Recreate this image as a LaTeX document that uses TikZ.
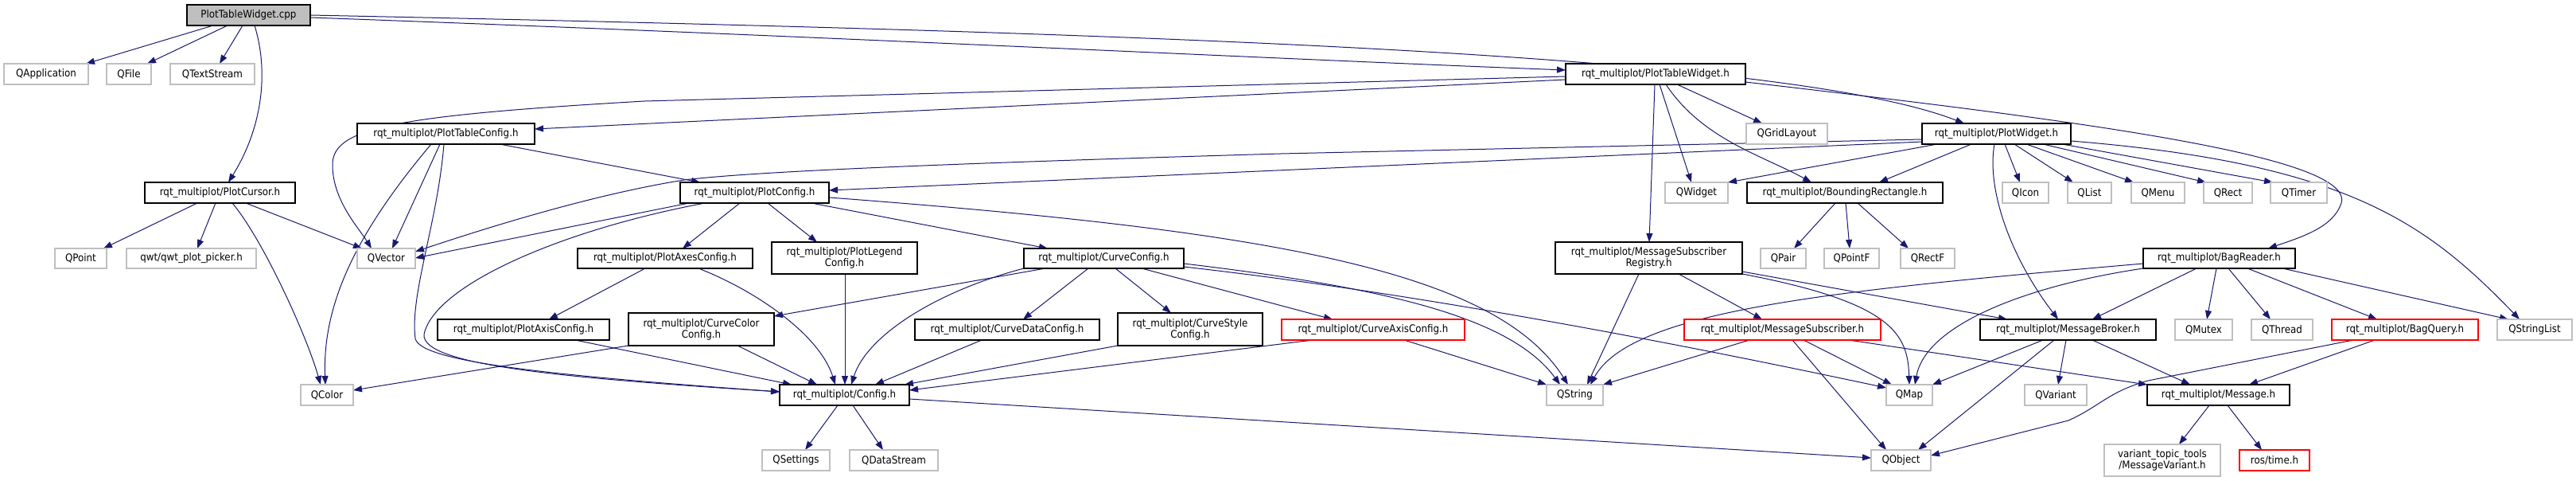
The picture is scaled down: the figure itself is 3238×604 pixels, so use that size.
\documentclass[tikz,border=0pt]{standalone}
\usepackage{fontspec}
\setmainfont{DejaVu Sans Condensed}
\usetikzlibrary{arrows.meta}
\definecolor{edgec}{HTML}{191970}
\definecolor{graybd}{HTML}{BFBFBF}
\pgfdeclarelayer{bg}
\pgfsetlayers{bg,main}
\tikzset{
  nb/.style={draw=black, line width=1.3pt, fill=white, inner sep=0pt, outer sep=0pt, align=center, font=\fontsize{13.2}{14}\selectfont},
  gb/.style={nb, draw=graybd},
  rb/.style={nb, draw=red},
  rootb/.style={nb, fill=graybd},
  edge/.style={draw=edgec, line width=1pt, -{Triangle[length=11pt,width=8pt]}},
}
\newcommand\DNode[7][nb]{\node[#1, minimum width={(#5-#3)*1pt}, minimum height={(#6-#4)*1pt}] (#2) at ({(#3+#5)/2},{(#4+#6)/2}) {#7};}
\begin{document}
\begin{tikzpicture}[x=1pt,y=-1pt]
\begin{pgfonlayer}{bg}
\path[fill=white, use as bounding box] (0,0) rectangle (3238,604);
\end{pgfonlayer}
% nodes
\DNode[rootb]{cpp}{235}{6}{390}{32}{PlotTableWidget.cpp}
\DNode[gb]{qapp}{5}{80}{111}{106}{QApplication}
\DNode[gb]{qfile}{134}{80}{190}{106}{QFile}
\DNode[gb]{qts}{214}{80}{320}{106}{QTextStream}
\DNode{ptwh}{1968}{80}{2194}{106}{rqt\_multiplot/PlotTableWidget.h}
\DNode{ptc}{449}{155}{672}{181}{rqt\_multiplot/PlotTableConfig.h}
\DNode[gb]{qgrid}{2195}{155}{2297}{181}{QGridLayout}
\DNode{pw}{2416}{155}{2603}{181}{rqt\_multiplot/PlotWidget.h}
\DNode{cursor}{182}{229}{371}{255}{rqt\_multiplot/PlotCursor.h}
\DNode{pc}{855}{229}{1042}{255}{rqt\_multiplot/PlotConfig.h}
\DNode[gb]{qwidget}{2093}{229}{2172}{255}{QWidget}
\DNode{brect}{2196}{229}{2442}{255}{rqt\_multiplot/BoundingRectangle.h}
\DNode[gb]{qicon}{2517}{229}{2575}{255}{QIcon}
\DNode[gb]{qlist}{2599}{229}{2654}{255}{QList}
\DNode[gb]{qmenu}{2679}{229}{2746}{255}{QMenu}
\DNode[gb]{qrect}{2770}{229}{2831}{255}{QRect}
\DNode[gb]{qtimer}{2854}{229}{2925}{255}{QTimer}
\DNode[gb]{qpoint}{69}{312}{134}{337}{QPoint}
\DNode[gb]{qwt}{159}{312}{322}{337}{qwt/qwt\_plot\_picker.h}
\DNode[gb]{qvector}{449}{312}{522}{337}{QVector}
\DNode{pac}{726}{312}{946}{337}{rqt\_multiplot/PlotAxesConfig.h}
\DNode{plc}{970}{304}{1153}{344}{rqt\_multiplot/PlotLegend\\Config.h}
\DNode{cc}{1287}{312}{1488}{337}{rqt\_multiplot/CurveConfig.h}
\DNode{msr}{1955}{304}{2190}{344}{rqt\_multiplot/MessageSubscriber\\Registry.h}
\DNode[gb]{qpair}{2213}{312}{2270}{337}{QPair}
\DNode[gb]{qpointf}{2293}{312}{2362}{337}{QPointF}
\DNode[gb]{qrectf}{2389}{312}{2457}{337}{QRectF}
\DNode{br}{2694}{312}{2885}{337}{rqt\_multiplot/BagReader.h}
\DNode{paxc}{550}{401}{766}{427}{rqt\_multiplot/PlotAxisConfig.h}
\DNode{ccc}{790}{393}{973}{434}{rqt\_multiplot/CurveColor\\Config.h}
\DNode{cdc}{1150}{401}{1382}{427}{rqt\_multiplot/CurveDataConfig.h}
\DNode{csc}{1405}{393}{1587}{434}{rqt\_multiplot/CurveStyle\\Config.h}
\DNode[rb]{cac}{1611}{401}{1841}{427}{rqt\_multiplot/CurveAxisConfig.h}
\DNode[rb]{ms}{2117}{401}{2364}{427}{rqt\_multiplot/MessageSubscriber.h}
\DNode{mb}{2489}{401}{2710}{427}{rqt\_multiplot/MessageBroker.h}
\DNode[gb]{qmutex}{2734}{401}{2806}{427}{QMutex}
\DNode[gb]{qthread}{2830}{401}{2907}{427}{QThread}
\DNode[rb]{bq}{2931}{401}{3115}{427}{rqt\_multiplot/BagQuery.h}
\DNode[gb]{qsl}{3139}{401}{3233}{427}{QStringList}
\DNode[gb]{qcolor}{378}{483}{444}{509}{QColor}
\DNode{config}{980}{483}{1143}{509}{rqt\_multiplot/Config.h}
\DNode[gb]{qstring}{1944}{483}{2015}{509}{QString}
\DNode[gb]{qmap}{2371}{483}{2429}{509}{QMap}
\DNode[gb]{qvariant}{2545}{483}{2623}{509}{QVariant}
\DNode{msg}{2699}{483}{2878}{509}{rqt\_multiplot/Message.h}
\DNode[gb]{qsettings}{958}{565}{1043}{591}{QSettings}
\DNode[gb]{qds}{1068}{565}{1179}{591}{QDataStream}
\DNode[gb]{qobject}{2352}{565}{2427}{591}{QObject}
\DNode[gb]{mv}{2645}{558}{2791}{598}{variant\_topic\_tools\\/MessageVariant.h}
\DNode[rb]{ros}{2815}{565}{2903}{591}{ros/time.h}
% edges
\begin{pgfonlayer}{bg}
% PlotTableWidget.cpp
\draw[edge] (cpp.south -| 268,0) -- (qapp.north -| 108,0);
\draw[edge] (cpp.south -| 286,0) -- (qfile.north -| 185,0);
\draw[edge] (cpp.south -| 305,0) -- (qts.north -| 276,0);
\draw[edge] (cpp.south -| 320,0) .. controls (338,90) and (330,160) .. (cursor.north -| 287,0);
\draw[edge] (cpp.east |- 0,22) .. controls (1000,44) and (1600,74) .. (ptwh.west |- 0,88);
\draw[edge] (cpp.east |- 0,19) .. controls (1500,42) and (2250,70) .. (pw.north -| 2469,0);
% PlotTableWidget.h
\draw[edge] (ptwh.west |- 0,100) -- (ptc.east |- 0,162);
\draw[edge] (ptwh.west |- 0,96) -- (810,127) .. controls (500,145) and (420,160) .. (418,205) .. controls (417,250) and (450,285) .. (qvector.north -| 467,0);
\draw[edge] (ptwh.south -| 2080,0) -- (msr.north -| 2073,0);
\draw[edge] (ptwh.south -| 2086,0) -- (qwidget.north -| 2126,0);
\draw[edge] (ptwh.south -| 2094,0) .. controls (2140,175) and (2215,195) .. (brect.north -| 2277,0);
\draw[edge] (ptwh.south -| 2108,0) -- (qgrid.north -| 2215,0);
\draw[edge] (ptwh.east |- 0,103) .. controls (2600,150) and (2960,195) .. (2943,255) .. controls (2933,285) and (2895,297) .. (br.north -| 2851,0);
% PlotWidget.h
\draw[edge] (pw.west |- 0,175) -- (1610,193) .. controls (1200,205) and (950,215) .. (860,226) .. controls (740,245) and (600,290) .. (qvector.east |- 0,316);
\draw[edge] (pw.west |- 0,178) -- (pc.east |- 0,239);
\draw[edge] (pw.south -| 2435,0) -- (qwidget.north east);
\draw[edge] (pw.south -| 2478,0) -- (brect.north -| 2362,0);
\draw[edge] (pw.south -| 2520,0) -- (qicon.north -| 2539,0);
\draw[edge] (pw.south -| 2532,0) -- (qlist.north -| 2606,0);
\draw[edge] (pw.south -| 2547,0) -- (qmenu.north -| 2682,0);
\draw[edge] (pw.south -| 2568,0) -- (qrect.north -| 2773,0);
\draw[edge] (pw.south -| 2592,0) -- (qtimer.north -| 2857,0);
\draw[edge] (pw.south -| 2507,0) .. controls (2497,235) and (2525,320) .. (mb.north -| 2587,0);
\draw[edge] (pw.east |- 0,177) .. controls (2950,205) and (3050,280) .. (qsl.north -| 3167,0);
% PlotCursor.h
\draw[edge] (cursor.south -| 248,0) -- (qpoint.north -| 130,0);
\draw[edge] (cursor.south -| 271,0) -- (qwt.north -| 248,0);
\draw[edge] (cursor.south -| 292,0) .. controls (330,300) and (385,420) .. (qcolor.north -| 403,0);
\draw[edge] (cursor.south -| 309,0) -- (qvector.north -| 455,0);
% PlotTableConfig.h
\draw[edge] (ptc.south -| 542,0) .. controls (450,290) and (405,380) .. (qcolor.north -| 409,0);
\draw[edge] (ptc.south -| 553,0) -- (qvector.north -| 493,0);
\draw[edge] (ptc.south -| 558,0) .. controls (550,280) and (515,370) .. (522,425) .. controls (528,455) and (700,472) .. (config.west |- 0,492);
\draw[edge] (ptc.south -| 628,0) -- (pc.north -| 880,0);
% PlotConfig.h
\draw[edge] (pc.south -| 886,0) .. controls (700,290) and (545,360) .. (533,420) .. controls (530,458) and (700,474) .. (config.west |- 0,492);
\draw[edge] (pc.south -| 866,0) -- (qvector.east |- 0,324);
\draw[edge] (pc.south -| 930,0) -- (pac.north -| 858,0);
\draw[edge] (pc.south -| 965,0) -- (plc.north -| 1027,0);
\draw[edge] (pc.south -| 1020,0) -- (cc.north -| 1317,0);
\draw[edge] (pc.east |- 0,248) .. controls (1600,290) and (1880,340) .. (qstring.north -| 1971,0);
% PlotAxesConfig.h, PlotLegendConfig.h
\draw[edge] (pac.south -| 811,0) -- (paxc.north -| 690,0);
\draw[edge] (pac.south -| 878,0) .. controls (950,365) and (1030,420) .. (config.north -| 1050,0);
\draw[edge] (plc.south -| 1062,0) -- (config.north -| 1062,0);
% CurveConfig.h
\draw[edge] (cc.south -| 1314,0) -- (ccc.east |- 0,397);
\draw[edge] (cc.south west) .. controls (1180,365) and (1090,420) .. (config.north -| 1070,0);
\draw[edge] (cc.south -| 1368,0) -- (cdc.north -| 1286,0);
\draw[edge] (cc.south -| 1402,0) -- (csc.north -| 1472,0);
\draw[edge] (cc.south -| 1435,0) -- (cac.north -| 1675,0);
\draw[edge] (cc.east |- 0,331) .. controls (1750,362) and (1900,400) .. (qstring.north -| 1961,0);
\draw[edge] (cc.east |- 0,335) .. controls (1800,370) and (2150,440) .. (qmap.west |- 0,487);
% second row configs
\draw[edge] (paxc.south -| 723,0) -- (config.north -| 995,0);
\draw[edge] (ccc.south west) -- (qcolor.east |- 0,490);
\draw[edge] (ccc.south -| 927,0) -- (config.north -| 1027,0);
\draw[edge] (cdc.south -| 1234,0) -- (config.north -| 1100,0);
\draw[edge] (csc.south west) -- (config.north -| 1137,0);
\draw[edge] (cac.south -| 1650,0) -- (config.east |- 0,490);
\draw[edge] (cac.south -| 1765,0) -- (qstring.north west);
% Config.h
\draw[edge] (config.south -| 1053,0) -- (qsettings.north -| 1012,0);
\draw[edge] (config.south -| 1072,0) -- (qds.north -| 1110,0);
\draw[edge] (config.east |- 0,501) -- (qobject.west |- 0,575);
% MessageSubscriberRegistry.h
\draw[edge] (msr.south -| 2060,0) -- (qstring.north -| 1995,0);
\draw[edge] (msr.south -| 2110,0) -- (ms.north -| 2215,0);
\draw[edge] (msr.south east) .. controls (2380,380) and (2398,420) .. (qmap.north -| 2400,0);
\draw[edge] (msr.east |- 0,341) -- (mb.north -| 2523,0);
% MessageSubscriber.h
\draw[edge] (ms.south -| 2199,0) -- (qstring.north east);
\draw[edge] (ms.south -| 2253,0) -- (qobject.north -| 2371,0);
\draw[edge] (ms.south -| 2267,0) -- (qmap.north -| 2378,0);
\draw[edge] (ms.south -| 2324,0) -- (msg.north west);
% BagReader.h
\draw[edge] (br.south west) .. controls (2540,360) and (2420,410) .. (qmap.north -| 2407,0);
\draw[edge] (br.west |- 0,331) .. controls (2300,365) and (2050,390) .. (qstring.north -| 1999,0);
\draw[edge] (br.south -| 2761,0) -- (mb.north -| 2630,0);
\draw[edge] (br.south -| 2786,0) -- (qmutex.north -| 2774,0);
\draw[edge] (br.south -| 2801,0) -- (qthread.north -| 2854,0);
\draw[edge] (br.south -| 2825,0) -- (bq.north -| 2988,0);
\draw[edge] (br.south -| 2869,0) -- (qsl.north -| 3153,0);
% MessageBroker.h
\draw[edge] (mb.south -| 2568,0) -- (qmap.north east);
\draw[edge] (mb.south -| 2582,0) -- (qobject.north -| 2411,0);
\draw[edge] (mb.south -| 2597,0) -- (qvariant.north -| 2587,0);
\draw[edge] (mb.south -| 2630,0) -- (msg.north -| 2753,0);
% BagQuery.h
\draw[edge] (bq.south -| 2958,0) -- (2700,478) .. controls (2650,492) and (2640,510) .. (2600,528) -- (qobject.east |- 0,572);
\draw[edge] (bq.south -| 2985,0) -- (msg.north -| 2827,0);
% Message.h
\draw[edge] (msg.south -| 2777,0) -- (mv.north -| 2739,0);
\draw[edge] (msg.south -| 2800,0) -- (ros.north -| 2843,0);
% BoundingRectangle.h
\draw[edge] (brect.south -| 2307,0) -- (qpair.north -| 2255,0);
\draw[edge] (brect.south -| 2320,0) -- (qpointf.north -| 2325,0);
\draw[edge] (brect.south -| 2335,0) -- (qrectf.north -| 2399,0);
\end{pgfonlayer}
\end{tikzpicture}
\end{document}
